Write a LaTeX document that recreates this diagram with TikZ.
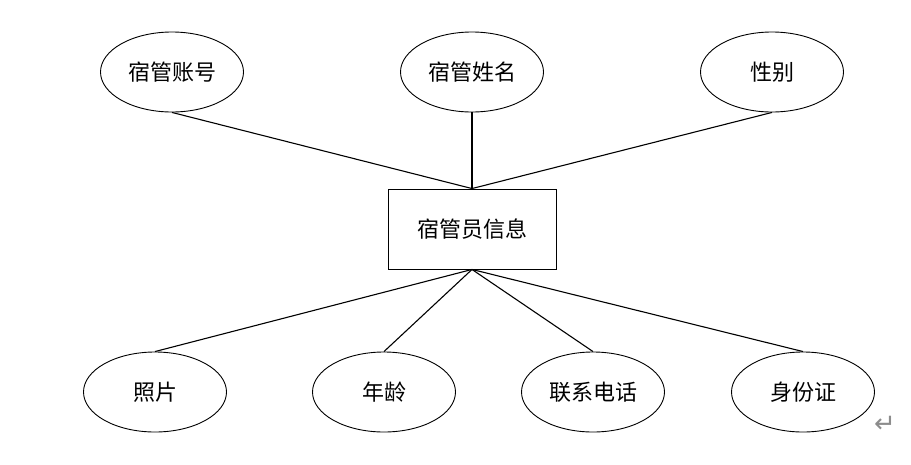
\documentclass[tikz,border=0pt]{standalone}
\usepackage{fontspec}
\usepackage{tikz}
\usetikzlibrary{positioning, shapes.geometric}
\newfontfamily\cjk{Noto Sans CJK SC}
\newfontfamily\symfont{DejaVu Sans}
\definecolor{erLine}{HTML}{000000}
\definecolor{erMark}{HTML}{8C8C8C}

\begin{document}
\begin{tikzpicture}[x=1pt, y=-1pt,
  attr/.style={draw=erLine, line width=0.9pt, ellipse, minimum width=143pt, minimum height=80pt,
               inner sep=0pt, font=\cjk\fontsize{22}{26}\selectfont},
  entity/.style={draw=erLine, line width=0.9pt, rectangle, minimum width=168pt, minimum height=80pt,
                 inner sep=0pt, font=\cjk\fontsize{22}{26}\selectfont},
  link/.style={draw=erLine, line width=1.1pt},
]
  \useasboundingbox (0,0) rectangle (911,464);

  \node[entity] (info) at (472,229) {宿管员信息};

  \node[attr] (acct) at (172,72) {宿管账号};
  \node[attr] (name) at (472,72) {宿管姓名};
  \node[attr] (sex)  at (772,72) {性别};

  \node[attr] (photo) at (155,392) {照片};
  \node[attr] (age)   at (384,392) {年龄};
  \node[attr] (tel)   at (593,392) {联系电话};
  \node[attr] (idno)  at (803,392) {身份证};

  \node[font=\symfont\fontsize{26}{28}\selectfont, text=erMark] (mark) at (885,424) {↵};

  \draw[link] (acct.south) -- (info.north);
  \draw[link] (name.south) -- (info.north);
  \draw[link] (sex.south) -- (info.north);
  \draw[link] (info.south) -- (photo.north);
  \draw[link] (info.south) -- (age.north);
  \draw[link] (info.south) -- (tel.north);
  \draw[link] (info.south) -- (idno.north);
\end{tikzpicture}
\end{document}
